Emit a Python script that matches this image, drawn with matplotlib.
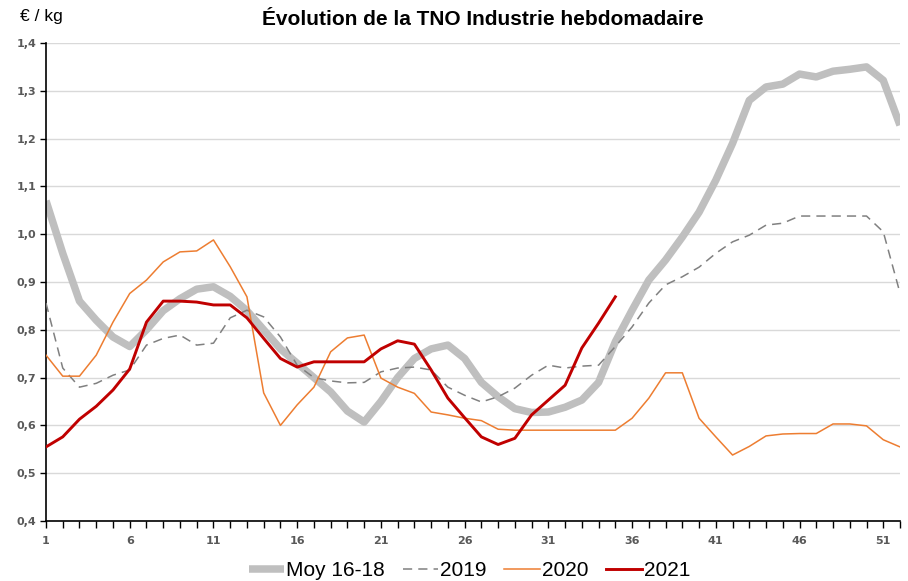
import matplotlib
matplotlib.use("Agg")
import matplotlib.pyplot as plt
from matplotlib.ticker import MultipleLocator, FixedLocator, FixedFormatter

weeks = list(range(1, 53))

moy_16_18 = [1.07, 0.96, 0.86, 0.82, 0.785, 0.765, 0.80, 0.84, 0.865, 0.885,
             0.89, 0.87, 0.84, 0.80, 0.76, 0.73, 0.70, 0.67, 0.63, 0.607,
             0.65, 0.70, 0.74, 0.76, 0.768, 0.74, 0.69, 0.66, 0.635, 0.627,
             0.628, 0.638, 0.653, 0.69, 0.775, 0.841, 0.904, 0.946, 0.994, 1.046,
             1.113, 1.19, 1.28, 1.308, 1.314, 1.335, 1.329, 1.341, 1.345, 1.35,
             1.322, 1.228]

y2019 = [0.856, 0.72, 0.68, 0.688, 0.705, 0.716, 0.768, 0.782, 0.789, 0.768,
         0.772, 0.825, 0.841, 0.827, 0.785, 0.726, 0.70, 0.693, 0.689, 0.69,
         0.712, 0.72, 0.722, 0.716, 0.68, 0.663, 0.649, 0.66, 0.678, 0.705,
         0.726, 0.72, 0.724, 0.726, 0.765, 0.806, 0.856, 0.894, 0.911, 0.931,
         0.96, 0.984, 0.998, 1.019, 1.023, 1.038, 1.038, 1.038, 1.038, 1.038,
         1.005, 0.877]

y2020 = [0.747, 0.703, 0.703, 0.747, 0.816, 0.876, 0.904, 0.942, 0.963, 0.965,
         0.988, 0.932, 0.869, 0.668, 0.60, 0.643, 0.68, 0.754, 0.783, 0.789,
         0.699, 0.68, 0.667, 0.628, 0.622, 0.615, 0.61, 0.592, 0.59, 0.59,
         0.59, 0.59, 0.59, 0.59, 0.59, 0.615, 0.657, 0.71, 0.71, 0.615,
         0.576, 0.538, 0.556, 0.578, 0.582, 0.583, 0.583, 0.603, 0.603, 0.599,
         0.57, 0.555]

weeks_2021 = list(range(1, 36))
y2021 = [0.555, 0.576, 0.613, 0.64, 0.674, 0.718, 0.816, 0.86, 0.86, 0.858,
         0.852, 0.852, 0.825, 0.782, 0.74, 0.722, 0.733, 0.733, 0.733, 0.733,
         0.76, 0.777, 0.77, 0.716, 0.657, 0.616, 0.576, 0.56, 0.573, 0.622,
         0.653, 0.684, 0.762, 0.814, 0.869]

x_tick_labels = ["1", "6", "11", "16", "21", "26", "31", "36", "41", "46", "51"]
y_ticks = [0.4, 0.5, 0.6, 0.7, 0.8, 0.9, 1.0, 1.1, 1.2, 1.3, 1.4]
y_tick_labels = ["0,4", "0,5", "0,6", "0,7", "0,8", "0,9", "1,0", "1,1", "1,2", "1,3", "1,4"]

plt.rcParams['font.family'] = ['DejaVu Sans']

fig = plt.figure(figsize=(9.08, 5.81), dpi=100)
ax = fig.add_axes([46/908, 60/581, (900-46)/908, (521-43)/581])

ax.plot(weeks, moy_16_18, color="#BFBFBF", lw=5.4, solid_capstyle="butt",
        label="Moy 16-18", zorder=2)
ax.plot(weeks, y2019, color="#808080", lw=1.1, dashes=(6, 4), label="2019", zorder=3)
ax.plot(weeks, y2020, color="#ED7D31", lw=1.1, label="2020", zorder=4)
ax.plot(weeks_2021, y2021, color="#C00000", lw=2.1, label="2021", zorder=5)

ax.set_xlim(1, 52)
ax.set_ylim(0.4, 1.4)
ax.xaxis.set_major_locator(FixedLocator([int(s) for s in x_tick_labels]))
ax.xaxis.set_major_formatter(FixedFormatter(x_tick_labels))
ax.xaxis.set_minor_locator(MultipleLocator(1))
ax.yaxis.set_major_locator(FixedLocator(y_ticks))
ax.yaxis.set_major_formatter(FixedFormatter(y_tick_labels))

ax.grid(axis="y", color="#D9D9D9", lw=1.0, zorder=0)
ax.set_axisbelow(True)
for s in ["top", "right"]:
    ax.spines[s].set_visible(False)
for s in ["left", "bottom"]:
    ax.spines[s].set_color("black")
    ax.spines[s].set_linewidth(1.2)

ax.tick_params(axis="x", which="both", direction="out", length=5, width=1,
               color="black", labelsize=8, labelcolor="#595959", pad=6)
ax.tick_params(axis="y", which="major", direction="out", length=4, width=1,
               color="black", labelsize=8, labelcolor="#595959", pad=3)
for lbl in ax.get_xticklabels() + ax.get_yticklabels():
    lbl.set_fontweight("bold")

fig.text(0.532, 0.966, "Évolution de la TNO Industrie hebdomadaire",
         ha="center", va="center", fontsize=15, fontweight="bold",
         family="Liberation Sans")
fig.text(0.022, 0.972, "€ / kg", ha="left", va="center", fontsize=12.5,
         family="Liberation Sans")

leg = fig.legend(loc="center", bbox_to_anchor=(0.517, 0.018), ncol=4, frameon=False,
                 handlelength=1.7, handletextpad=0.1,
                 columnspacing=0.85, prop={"family": "Liberation Sans", "size": 15})

fig.savefig("out.png", dpi=100)
